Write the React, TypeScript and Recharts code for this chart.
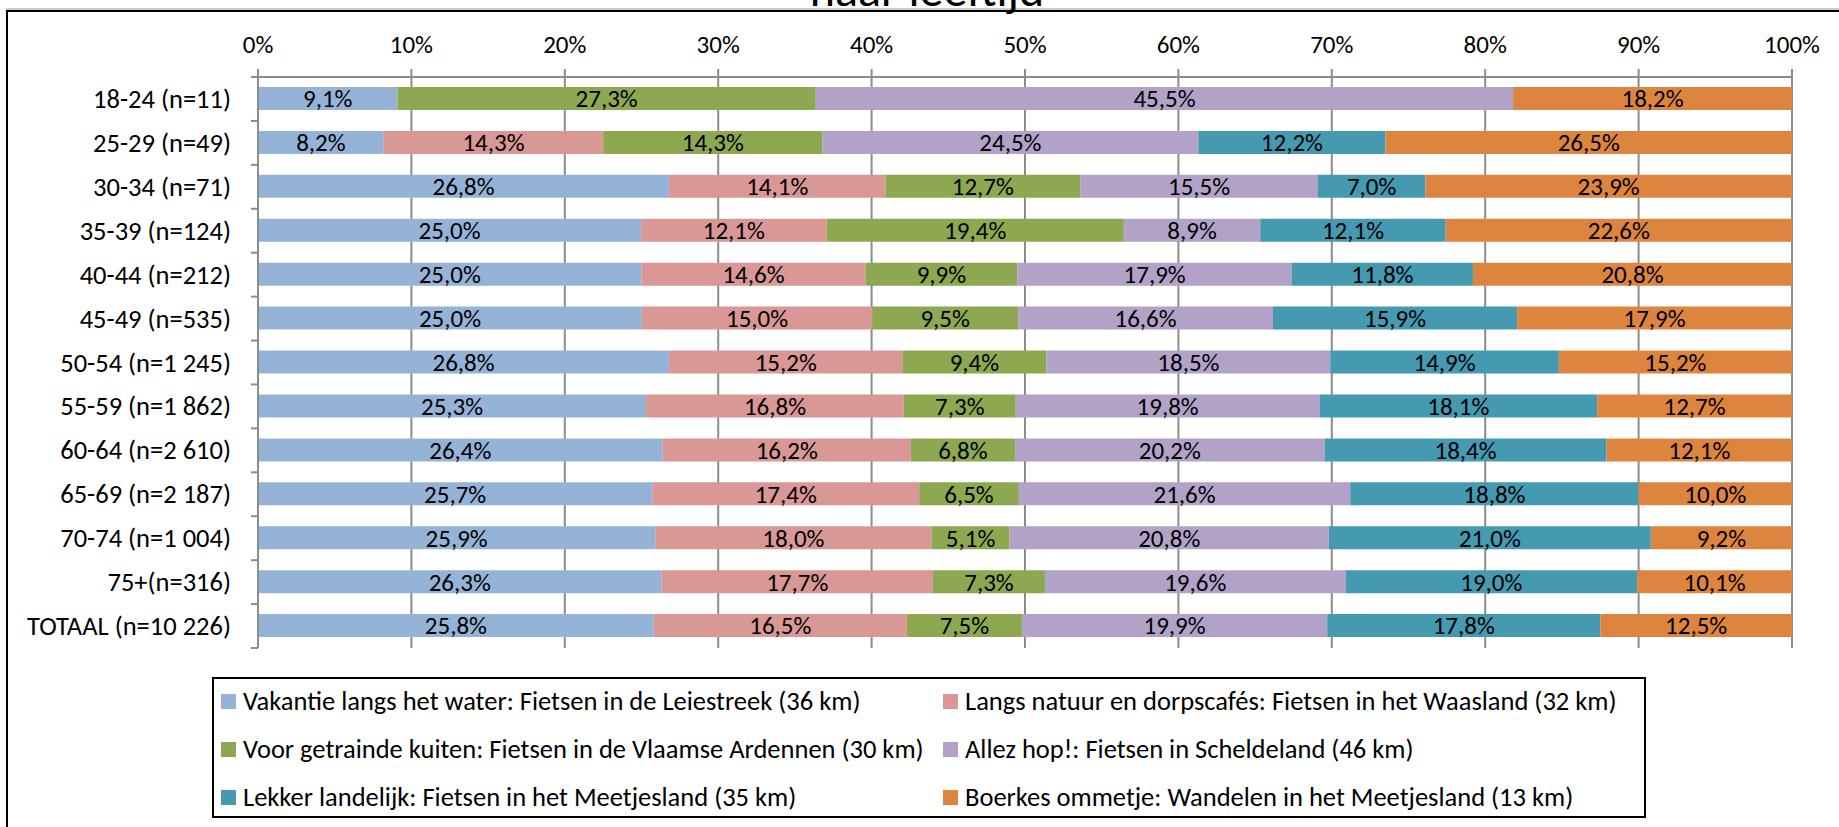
import React from 'react';
import { BarChart, Bar, XAxis, YAxis, CartesianGrid, LabelList } from 'recharts';

const categories = [
  '18-24 (n=11)', '25-29 (n=49)', '30-34 (n=71)', '35-39 (n=124)', '40-44 (n=212)',
  '45-49 (n=535)', '50-54 (n=1 245)', '55-59 (n=1 862)', '60-64 (n=2 610)',
  '65-69 (n=2 187)', '70-74 (n=1 004)', '75+(n=316)', 'TOTAAL (n=10 226)',
];

const vakantie = [9.1, 8.2, 26.8, 25.0, 25.0, 25.0, 26.8, 25.3, 26.4, 25.7, 25.9, 26.3, 25.8];
const langs = [0, 14.3, 14.1, 12.1, 14.6, 15.0, 15.2, 16.8, 16.2, 17.4, 18.0, 17.7, 16.5];
const voor = [27.3, 14.3, 12.7, 19.4, 9.9, 9.5, 9.4, 7.3, 6.8, 6.5, 5.1, 7.3, 7.5];
const allez = [45.5, 24.5, 15.5, 8.9, 17.9, 16.6, 18.5, 19.8, 20.2, 21.6, 20.8, 19.6, 19.9];
const lekker = [0, 12.2, 7.0, 12.1, 11.8, 15.9, 14.9, 18.1, 18.4, 18.8, 21.0, 19.0, 17.8];
const boerkes = [18.2, 26.5, 23.9, 22.6, 20.8, 17.9, 15.2, 12.7, 12.1, 10.0, 9.2, 10.1, 12.5];

const seriesNames = [
  'Vakantie langs het water: Fietsen in de Leiestreek (36 km)',
  'Langs natuur en dorpscafés: Fietsen in het Waasland (32 km)',
  'Voor getrainde kuiten: Fietsen in de Vlaamse Ardennen (30 km)',
  'Allez hop!: Fietsen in Scheldeland (46 km)',
  'Lekker landelijk: Fietsen in het Meetjesland (35 km)',
  'Boerkes ommetje: Wandelen in het Meetjesland (13 km)',
];
const seriesKeys = ['s0', 's1', 's2', 's3', 's4', 's5'];
const seriesValues = [vakantie, langs, voor, allez, lekker, boerkes];
const seriesColors = ['#95B3D7', '#D99795', '#8DA850', '#B3A2C7', '#4599B1', '#DD853F'];

const xTicks = [0, 0.1, 0.2, 0.3, 0.4, 0.5, 0.6, 0.7, 0.8, 0.9, 1];
const titleText = 'naar leeftijd';

const data = categories.map((name, i) => {
  const row: Record<string, any> = { name };
  seriesKeys.forEach((k, j) => { row[k] = seriesValues[j][i]; });
  return row;
});

const FONT = 'Carlito, Calibri, Lato, sans-serif';
const FS_CAT = 26.5;
const FS_LBL = 25;
const FS_LEG = 26.5;
const GRID = '#8c8c8c';

const PLOT_TOP = 77;
const PLOT_BOTTOM = 648;
const BAND = (PLOT_BOTTOM - PLOT_TOP) / categories.length;

const fmt = (v: any) => {
  const n = Number(v);
  if (!n) return '';
  return n.toFixed(1).replace('.', ',') + '%';
};

const YTick = (props: any) => {
  const { x, y, payload, index } = props;
  const last = index === categories.length - 1;
  return (
    <g>
      <line x1={x + 20} x2={x + 27} y1={y - BAND / 2} y2={y - BAND / 2} stroke={GRID} strokeWidth={2} />
      {last && <line x1={x + 20} x2={x + 27} y1={y + BAND / 2} y2={y + BAND / 2} stroke={GRID} strokeWidth={2} />}
      <text x={x} y={y} textAnchor="end" dominantBaseline="central" fill="#000" fontSize={FS_CAT} fontFamily={FONT}>
        {payload.value}
      </text>
    </g>
  );
};

export default function App() {
  return (
    <div style={{ position: 'absolute', left: 0, top: 0, width: 1839, height: 827, background: '#fff', overflow: 'hidden', fontFamily: FONT }}>
      <svg width={1839} height={827} style={{ position: 'absolute', left: 0, top: 0 }}>
        <line x1={6} x2={1839} y1={9} y2={9} stroke="#9a9a9a" strokeWidth={1} />
        <line x1={6} x2={1839} y1={11} y2={11} stroke="#000" strokeWidth={2} />
        <line x1={7} x2={7} y1={10} y2={827} stroke="#000" strokeWidth={2} />
        <text x={927} y={6} textAnchor="middle" fontSize={48} fontFamily={FONT} fill="#000">{titleText}</text>
      </svg>
      <div style={{ position: 'absolute', left: 0, top: 0 }}>
        <BarChart
          width={1839}
          height={660}
          data={data}
          layout="vertical"
          stackOffset="expand"
          margin={{ top: 17, right: 47, bottom: 12, left: 0 }}
        >
          <CartesianGrid vertical horizontal={false} stroke={GRID} strokeWidth={2} />
          <XAxis
            type="number"
            orientation="top"
            domain={[0, 1]}
            ticks={xTicks}
            height={60}
            tickFormatter={(v: number) => `${Math.round(v * 100)}%`}
            tick={{ fill: '#000', fontSize: FS_LBL, fontFamily: FONT }}
            tickSize={8}
            tickMargin={16}
            axisLine={{ stroke: GRID, strokeWidth: 2 }}
            tickLine={{ stroke: GRID, strokeWidth: 2 }}
            interval={0}
          />
          <YAxis
            type="category"
            dataKey="name"
            width={258}
            tickSize={7}
            tickMargin={20}
            tickLine={false}
            axisLine={{ stroke: GRID, strokeWidth: 2 }}
            tick={<YTick />}
            interval={0}
          />
          {seriesKeys.map((k, j) => (
            <Bar key={k} dataKey={k} stackId="a" fill={seriesColors[j]} barSize={23} isAnimationActive={false}>
              <LabelList dataKey={k} position="center" formatter={fmt} fill="#000" fontSize={FS_LBL} fontFamily={FONT} />
            </Bar>
          ))}
        </BarChart>
      </div>
      <div style={{ position: 'absolute', left: 212, top: 677, width: 1430, height: 137, border: '2px solid #000', background: '#fff' }}>
        {seriesNames.map((n, j) => {
          const col = j % 2;
          const row = Math.floor(j / 2);
          return (
            <div key={n} style={{ position: 'absolute', left: col === 0 ? 7 : 729, top: 12 + row * 48, height: 20, display: 'flex', alignItems: 'center', whiteSpace: 'nowrap' }}>
              <div style={{ width: 15, height: 15, background: seriesColors[j], marginRight: 7 }} />
              <span style={{ fontSize: FS_LEG, color: '#000', lineHeight: '20px' }}>{n}</span>
            </div>
          );
        })}
      </div>
    </div>
  );
}
